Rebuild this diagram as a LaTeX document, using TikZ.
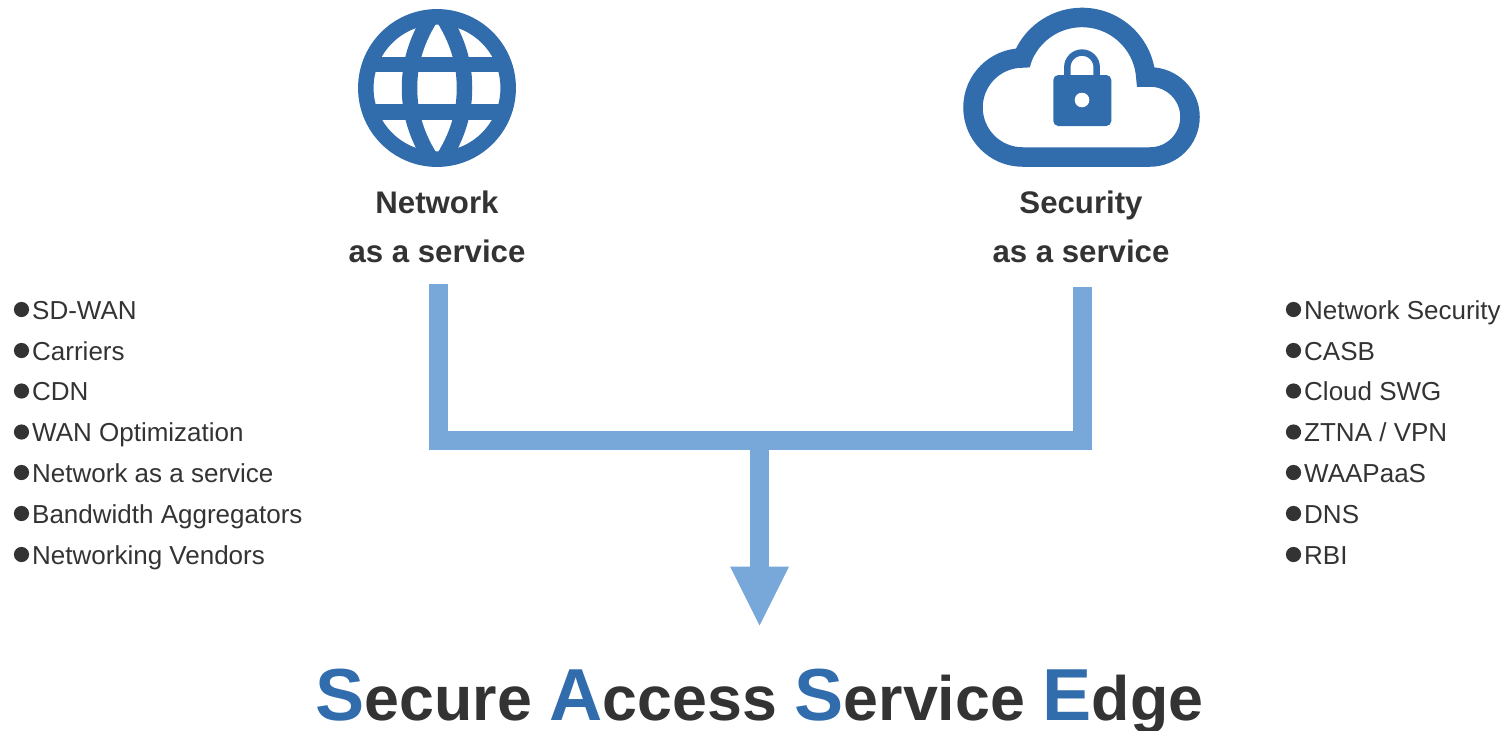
\documentclass[tikz,border=0pt]{standalone}
\usepackage{fontspec}
\setmainfont{Liberation Sans}
\usetikzlibrary{arrows.meta}
\definecolor{iconblue}{HTML}{316CAD}
\definecolor{barblue}{HTML}{78A7D9}
\definecolor{inkgrey}{HTML}{333333}
\tikzset{
  listitem/.style={anchor=base west,inner sep=0pt,text=inkgrey,font=\fontsize{26}{30}\selectfont},
  headline/.style={anchor=base,inner sep=0pt,text=inkgrey,font=\bfseries\fontsize{31.2}{34}\selectfont},
  titleline/.style={anchor=base,inner sep=0pt,text=inkgrey,font=\bfseries\fontsize{62.7}{66}\selectfont},
  iconline/.style={draw=iconblue,line width=15.5pt},
  bar/.style={draw=barblue,line width=19pt,line join=miter},
  dot/.style={fill=inkgrey}
}
\newcommand{\initialcap}[1]{{\color{iconblue}\fontsize{73.7}{66}\selectfont #1}}
\begin{document}
\begin{tikzpicture}[x=1pt,y=-1pt]
\useasboundingbox (0,0) rectangle (1505,731);
% globe
\draw[iconline] (437,88) circle (71.2pt);
\begin{scope}
\clip (437,88) circle (78pt);
\draw[iconline] (437,8) .. controls (418,35) and (409.5,60) .. (409.5,88) .. controls (409.5,116) and (418,141) .. (437,168);
\draw[iconline] (437,8) .. controls (456,35) and (464.5,60) .. (464.5,88) .. controls (464.5,116) and (456,141) .. (437,168);
\draw[iconline] (364,64.5) -- (510,64.5);
\draw[iconline] (364,112) -- (510,112);
\end{scope}
% cloud
\draw[draw=iconblue,line width=19.5pt,line join=miter]
  (1022.5,58) arc[start angle=90,end angle=270,radius=49.5pt]
  -- (1150,157) arc[start angle=-90,end angle=90,radius=40pt]
  -- (1145.8,77) arc[start angle=4,end angle=157.5,radius=64pt] -- cycle;
% lock
\fill[iconblue,rounded corners=5pt] (1053.3,75) rectangle (1111.3,126);
\draw[draw=iconblue,line width=6.5pt] (1067.3,77) -- (1067.3,67.3) arc[start angle=180,end angle=0,radius=14.7pt] -- (1096.7,77);
\fill[white] (1082,100) circle (7.3pt);
% headings
\node[headline] (net1) at (437,213) {Network};
\node[headline] (net2) at (437,262.5) {as a service};
\node[headline] (sec1) at (1081,213) {Security};
\node[headline] (sec2) at (1081,262.5) {as a service};
% connectors
\coordinate (netfoot) at (438.5,284);
\coordinate (secfoot) at (1082.5,287);
\coordinate (joint) at (759.5,440.5);
\coordinate (tip) at (759.5,625.5);
\draw[bar] (netfoot) |- (joint) -| (secfoot);
\draw[draw=barblue,line width=19pt,-{Triangle[length=59pt,width=59pt,line width=0pt,fill=barblue]}] (joint) -- (tip);
% left list
\foreach \t/\y [count=\i] in {SD-WAN/319,Carriers/360,CDN/400.5,WAN Optimization/441.5,Network as a service/482,Bandwidth Aggregators/523,Networking Vendors/564}{
  \node[listitem] (l\i) at (32,\y) {\t};
  \fill[dot] (21.5,\y-9.5) circle (7.6pt);
}
% right list
\foreach \t/\y [count=\i] in {Network Security/319,CASB/360,Cloud SWG/400.5,{ZTNA {/} VPN}/441.5,WAAPaaS/482,DNS/523,RBI/564}{
  \node[listitem] (r\i) at (1304,\y) {\t};
  \fill[dot] (1293.5,\y-9.5) circle (7.6pt);
}
% title
\node[titleline] (title) at (759.5,720.5) {\initialcap{S}ecure \initialcap{A}ccess \initialcap{S}ervice \initialcap{E}dge};
\end{tikzpicture}
\end{document}
